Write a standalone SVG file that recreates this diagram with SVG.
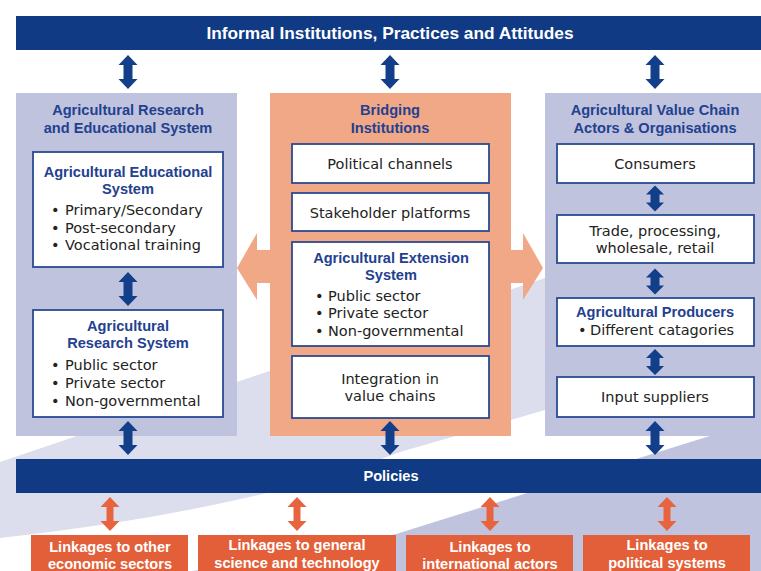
<svg xmlns="http://www.w3.org/2000/svg" xmlns:xlink="http://www.w3.org/1999/xlink" width="761" height="571" viewBox="0 0 761 571">
<defs>
<style>
.bar{fill:#103b84}
.panel{fill:#bfc3de}
.opanel{fill:#f1a887}
.box{fill:#fff;stroke:#2a4a93;stroke-width:1.8}
.obox{fill:#e35f39}
.h{font-family:"Liberation Sans",Arial,sans-serif;font-weight:bold;font-size:14.6px;fill:#23418f;text-anchor:middle}
.hw{font-family:"Liberation Sans",Arial,sans-serif;font-weight:bold;font-size:14.6px;fill:#fff;text-anchor:middle}
.t{font-family:"DejaVu Sans",sans-serif;font-size:14.5px;fill:#222}
.tc{font-family:"DejaVu Sans",sans-serif;font-size:14.5px;fill:#222;text-anchor:middle}
.da{fill:#123e8a}
.oa{fill:#e8643f}
.sa{fill:#f1a887}
</style>
<path id="d34" d="M0,-17 L9.5,-7 L4.5,-7 L4.5,7 L9.5,7 L0,17 L-9.5,7 L-4.5,7 L-4.5,-7 L-9.5,-7 Z"/>
<path id="d26" d="M0,-13 L9,-4 L4.5,-4 L4.5,4 L9,4 L0,13 L-9,4 L-4.5,4 L-4.5,-4 L-9,-4 Z"/>
<path id="o34" d="M0,-17 L9.5,-7 L3.5,-7 L3.5,7 L9.5,7 L0,17 L-9.5,7 L-3.5,7 L-3.5,-7 L-9.5,-7 Z"/>
</defs>

<g id="background">
<path d="M0,462 L761,205 L761,345 L545,410 L400,452 Q250,510 0,538 Z" fill="#dcdeed"/>
<path d="M192,571 C280,560 330,552 393,535 L761,420 L761,571 Z" fill="#bfc3de"/>
</g>

<g id="informal">
<rect class="bar" x="16" y="16" width="745" height="34"/>
<text class="hw" x="390" y="39" style="font-size:17.3px">Informal Institutions, Practices and Attitudes</text>
</g>

<g id="research-education">
<rect class="panel" x="16" y="93" width="221" height="343"/>
<text class="h" x="128" y="115">Agricultural Research</text>
<text class="h" x="128" y="133">and Educational System</text>
</g>

<g id="bridging">
<rect class="opanel" x="270" y="93" width="241" height="343"/>
<text class="h" x="390" y="115">Bridging</text>
<text class="h" x="390" y="133">Institutions</text>
</g>

<g id="value-chain">
<rect class="panel" x="545" y="93" width="216" height="343"/>
<text class="h" x="655" y="115">Agricultural Value Chain</text>
<text class="h" x="655" y="133">Actors &amp; Organisations</text>
</g>

<g id="policies">
<rect class="bar" x="16" y="459" width="745" height="34"/>
<text class="hw" x="391" y="481">Policies</text>
</g>

<g id="connectors">
<use href="#d34" xlink:href="#d34" class="da" x="128" y="72"/>
<use href="#d34" xlink:href="#d34" class="da" x="390" y="72"/>
<use href="#d34" xlink:href="#d34" class="da" x="655" y="72"/>
<use href="#d34" xlink:href="#d34" class="da" x="128" y="289"/>
<use href="#d34" xlink:href="#d34" class="da" x="128" y="438"/>
<use href="#d34" xlink:href="#d34" class="da" x="390" y="438"/>
<use href="#d34" xlink:href="#d34" class="da" x="655" y="438"/>
<use href="#d26" xlink:href="#d26" class="da" x="655" y="198.5"/>
<use href="#d26" xlink:href="#d26" class="da" x="655" y="281.5"/>
<use href="#d26" xlink:href="#d26" class="da" x="655" y="362"/>
<use href="#o34" xlink:href="#o34" class="oa" x="110" y="514"/>
<use href="#o34" xlink:href="#o34" class="oa" x="297" y="514"/>
<use href="#o34" xlink:href="#o34" class="oa" x="490" y="514"/>
<use href="#o34" xlink:href="#o34" class="oa" x="667" y="514"/>
<path class="sa" d="M237,268 L257,233 L257,250 L271,250 L271,283 L257,283 L257,300 Z"/>
<path class="sa" d="M543,268 L523,233 L523,250 L510,250 L510,283 L523,283 L523,300 Z"/>
</g>

<g id="educational-system">
<rect class="box" x="33" y="152" width="190" height="115"/>
<text class="h" x="128" y="177">Agricultural Educational</text>
<text class="h" x="128" y="194">System</text>
<text class="t" y="215"><tspan x="51">•</tspan><tspan x="65">Primary/Secondary</tspan></text>
<text class="t" y="233"><tspan x="51">•</tspan><tspan x="65">Post-secondary</tspan></text>
<text class="t" y="250"><tspan x="51">•</tspan><tspan x="65">Vocational training</tspan></text>
</g>

<g id="research-system">
<rect class="box" x="33" y="310" width="190" height="107"/>
<text class="h" x="128" y="331">Agricultural</text>
<text class="h" x="128" y="348">Research System</text>
<text class="t" y="370"><tspan x="51">•</tspan><tspan x="65">Public sector</tspan></text>
<text class="t" y="388"><tspan x="51">•</tspan><tspan x="65">Private sector</tspan></text>
<text class="t" y="406"><tspan x="51">•</tspan><tspan x="65">Non-governmental</tspan></text>
</g>

<g id="political-channels">
<rect class="box" x="292" y="144" width="197" height="39"/>
<text class="tc" x="390" y="169">Political channels</text>
</g>

<g id="stakeholder-platforms">
<rect class="box" x="292" y="193" width="197" height="38"/>
<text class="tc" x="390" y="218">Stakeholder platforms</text>
</g>

<g id="extension-system">
<rect class="box" x="292" y="242" width="197" height="104"/>
<text class="h" x="391" y="263">Agricultural Extension</text>
<text class="h" x="391" y="280">System</text>
<text class="t" y="301"><tspan x="315">•</tspan><tspan x="328">Public sector</tspan></text>
<text class="t" y="318"><tspan x="315">•</tspan><tspan x="328">Private sector</tspan></text>
<text class="t" y="336"><tspan x="315">•</tspan><tspan x="328">Non-governmental</tspan></text>
</g>

<g id="integration">
<rect class="box" x="292" y="356" width="197" height="62"/>
<text class="tc" x="390" y="384">Integration in</text>
<text class="tc" x="390" y="401">value chains</text>
</g>

<g id="consumers">
<rect class="box" x="557" y="144" width="197" height="39"/>
<text class="tc" x="655" y="169">Consumers</text>
</g>

<g id="trade">
<rect class="box" x="557" y="215" width="197" height="48"/>
<text class="tc" x="655" y="236">Trade, processing,</text>
<text class="tc" x="655" y="253">wholesale, retail</text>
</g>

<g id="producers">
<rect class="box" x="557" y="298" width="197" height="48"/>
<text class="h" x="655" y="317">Agricultural Producers</text>
<text class="t" y="335"><tspan x="578">•</tspan><tspan x="590">Different catagories</tspan></text>
</g>

<g id="input-suppliers">
<rect class="box" x="557" y="377" width="197" height="40"/>
<text class="tc" x="655" y="402">Input suppliers</text>
</g>

<g id="link-economic">
<rect class="obox" x="31" y="535" width="157" height="40"/>
<text class="hw" x="110" y="552">Linkages to other</text>
<text class="hw" x="110" y="569">economic sectors</text>
</g>

<g id="link-science">
<rect class="obox" x="198" y="535" width="198" height="40"/>
<text class="hw" x="297" y="550">Linkages to general</text>
<text class="hw" x="297" y="568">science and technology</text>
</g>

<g id="link-international">
<rect class="obox" x="406" y="535" width="167" height="40"/>
<text class="hw" x="490" y="552">Linkages to</text>
<text class="hw" x="490" y="569">international actors</text>
</g>

<g id="link-political">
<rect class="obox" x="583" y="535" width="167" height="40"/>
<text class="hw" x="667" y="550">Linkages to</text>
<text class="hw" x="667" y="568">political systems</text>
</g>
</svg>
